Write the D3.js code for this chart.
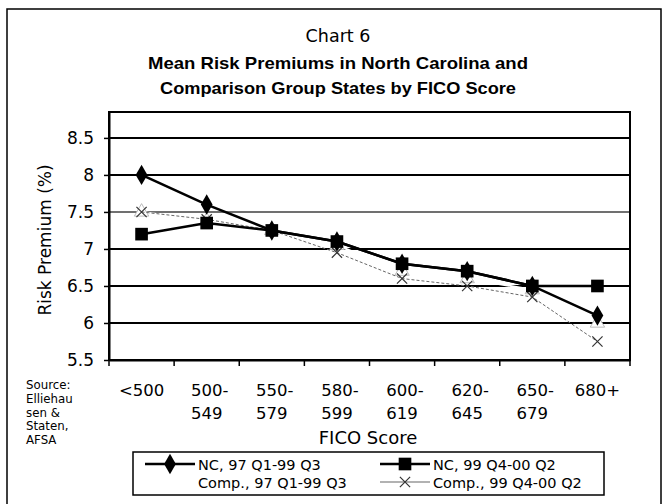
<html>
<script src="https://d3js.org/d3.v7.min.js"></script>
<style>
  body { margin: 0; background: #fff; }
  text { font-family: "DejaVu Sans", sans-serif; fill: #000; }
</style>
<body>
<svg width="670" height="504"></svg>
<script>
// FICO score bands
var categories = ["<500", "500-549", "550-579", "580-599", "600-619", "620-645", "650-679", "680+"];
// risk premium (%) per band
var nc97 = [8.0, 7.6, 7.25, 7.1, 6.8, 6.7, 6.5, 6.1];
var nc99 = [7.2, 7.35, 7.25, 7.1, 6.8, 6.7, 6.5, 6.5];
var comp97 = [7.5, 7.38, 7.25, 7.05, 6.7, 6.6, 6.45, 6.0];
var comp99 = [7.5, 7.4, 7.25, 6.95, 6.6, 6.5, 6.35, 5.75];
var yTicks = [5.5, 6, 6.5, 7, 7.5, 8, 8.5];
var seriesNames = ["NC, 97 Q1-99 Q3", "NC, 99 Q4-00 Q2", "Comp., 97 Q1-99 Q3", "Comp., 99 Q4-00 Q2"];
var titleLines = ["Chart 6", "Mean Risk Premiums in North Carolina and", "Comparison Group States by FICO Score"];
var sourceLines = ["Source:", "Elliehau", "sen &", "Staten,", "AFSA"];

var svg = d3.select("svg");
var pLeft = 109, pRight = 630, pTop = 112, pBottom = 360;

// outer frame
svg.append("path").attr("d", "M7,520 V9 H661 V520")
  .attr("fill", "none").attr("stroke", "#000").attr("stroke-width", 1.5);

// title
svg.append("text").attr("x", 338).attr("y", 42).attr("text-anchor", "middle")
  .style("font-size", "17.5px").text(titleLines[0]);
svg.append("text").attr("x", 338).attr("y", 69).attr("text-anchor", "middle")
  .style("font-family", "Liberation Sans, Arial, sans-serif")
  .style("font-size", "17px").style("font-weight", "bold")
  .attr("textLength", 380).attr("lengthAdjust", "spacingAndGlyphs").text(titleLines[1]);
svg.append("text").attr("x", 338).attr("y", 94).attr("text-anchor", "middle")
  .style("font-family", "Liberation Sans, Arial, sans-serif")
  .style("font-size", "17px").style("font-weight", "bold")
  .attr("textLength", 356).attr("lengthAdjust", "spacingAndGlyphs").text(titleLines[2]);

var x = d3.scaleBand().domain(categories).range([pLeft, pRight]);
var y = d3.scaleLinear().domain([5.5, 8.85]).range([pBottom, pTop]);
var cx = function(d, i) { return x(categories[i]) + x.bandwidth() / 2; };

// plot box
svg.append("rect").attr("x", pLeft).attr("y", pTop).attr("width", pRight - pLeft).attr("height", pBottom - pTop)
  .attr("fill", "#fff").attr("stroke", "#000").attr("stroke-width", 2);

// gridlines
svg.append("g").selectAll("line").data(yTicks).enter().append("line")
  .attr("x1", pLeft).attr("x2", pRight)
  .attr("y1", function(d) { return y(d); }).attr("y2", function(d) { return y(d); })
  .attr("stroke", "#000").attr("stroke-width", function(d) { return d == 7.5 ? 1.5 : 2; })
  .attr("stroke-opacity", function(d) { return d == 7.5 ? 0.75 : 1; });

// y axis
var yAxis = svg.append("g").attr("transform", "translate(" + pLeft + ",0)")
  .call(d3.axisLeft(y).tickValues(yTicks).tickSizeInner(5).tickSizeOuter(0).tickPadding(10)
    .tickFormat(function(d) { return d; }));
yAxis.select(".domain").attr("stroke", "#000").attr("stroke-width", 2);
yAxis.selectAll(".tick line").attr("stroke", "#000").attr("stroke-width", 1.5);
yAxis.selectAll("text").attr("font-family", null).attr("font-size", null).style("font-size", "17px");

// x axis (ticks at band boundaries)
var xAxis = svg.append("g").attr("transform", "translate(0," + pBottom + ")")
  .call(d3.axisBottom(x).tickSize(0).tickFormat(""));
xAxis.select(".domain").attr("stroke", "#000").attr("stroke-width", 2);
var bounds = categories.map(function(c) { return x(c); }).concat([pRight]);
svg.append("g").selectAll("line").data(bounds).enter().append("line")
  .attr("x1", function(d) { return d; }).attr("x2", function(d) { return d; })
  .attr("y1", pBottom).attr("y2", pBottom + 6)
  .attr("stroke", "#000").attr("stroke-width", 1.5);

var xl = svg.append("g").selectAll("text").data(categories).enter().append("text")
  .attr("text-anchor", "middle").style("font-size", "16.5px");
xl.each(function(c, i) {
  var parts = c.indexOf("-") > 0 ? [c.split("-")[0] + "-", c.split("-")[1]] : [c];
  var t = d3.select(this);
  parts.forEach(function(p, j) {
    t.append("tspan").attr("x", cx(c, i) + (j == 0 && parts.length > 1 ? 3 : 0))
      .attr("y", 396 + j * 23).text(p);
  });
});

// axis titles
svg.append("text").attr("x", 368).attr("y", 444).attr("text-anchor", "middle")
  .style("font-size", "18px").text("FICO Score");
svg.append("text").attr("transform", "translate(51,240) rotate(-90)").attr("text-anchor", "middle")
  .style("font-size", "17px").text("Risk Premium (%)");

// source note
svg.append("g").selectAll("text").data(sourceLines).enter().append("text")
  .attr("x", 26).attr("y", function(d, i) { return 389 + i * 13.8; })
  .style("font-size", "11.8px").text(function(d) { return d; });

// markers
var diamond = d3.symbol().type(d3.symbolDiamond).size(120);
var square = d3.symbol().type(d3.symbolSquare).size(160);
var tri = d3.symbol().type(d3.symbolTriangle).size(90);
var cross = d3.symbol().type(d3.symbolX).size(70);

var line = d3.line().x(cx).y(function(d) { return y(d); });

var series = [
  { data: comp97, stroke: "#fff", w: 2, sym: tri, fill: "#fff", mstroke: "#bbb", mw: 1 },
  { data: comp99, stroke: "#666", w: 1, dash: "3,2", sym: cross, fill: "none", mstroke: "#333", mw: 1.2 },
  { data: nc99, stroke: "#000", w: 2.5, sym: square, fill: "#000", mstroke: "#000", mw: 0 },
  { data: nc97, stroke: "#000", w: 2.5, sym: diamond, fill: "#000", mstroke: "#000", mw: 0 }
];

series.forEach(function(s) {
  svg.append("path").datum(s.data).attr("d", line)
    .attr("fill", "none").attr("stroke", s.stroke).attr("stroke-width", s.w)
    .attr("stroke-dasharray", s.dash || null);
  svg.append("g").selectAll("path").data(s.data).enter().append("path")
    .attr("d", s.sym)
    .attr("transform", function(d, i) { return "translate(" + cx(d, i) + "," + y(d) + ")"; })
    .attr("fill", s.fill).attr("stroke", s.mstroke).attr("stroke-width", s.mw);
});

// legend
svg.append("rect").attr("x", 133).attr("y", 452).attr("width", 471).attr("height", 43)
  .attr("fill", "#fff").attr("stroke", "#000").attr("stroke-width", 1.5);
var legendItems = [
  { name: seriesNames[0], lx: 145, ly: 464, s: series[3] },
  { name: seriesNames[1], lx: 380, ly: 464, s: series[2] },
  { name: seriesNames[2], lx: 145, ly: 482, s: series[0] },
  { name: seriesNames[3], lx: 380, ly: 482, s: series[1] }
];
legendItems.forEach(function(it) {
  var g = svg.append("g");
  g.append("line").attr("x1", it.lx).attr("x2", it.lx + 50).attr("y1", it.ly).attr("y2", it.ly)
    .attr("stroke", it.s.stroke).attr("stroke-width", it.s.w == 1 ? 1.2 : it.s.w);
  if (it.s.sym !== tri) {
    g.append("path").attr("d", it.s.sym).attr("transform", "translate(" + (it.lx + 25) + "," + it.ly + ")")
      .attr("fill", it.s.fill).attr("stroke", it.s.mstroke).attr("stroke-width", it.s.mw);
  }
  g.append("text").attr("x", it.lx + 53).attr("y", it.ly + 5.5).style("font-size", "14.5px").text(it.name);
});
</script>
</body>
</html>
